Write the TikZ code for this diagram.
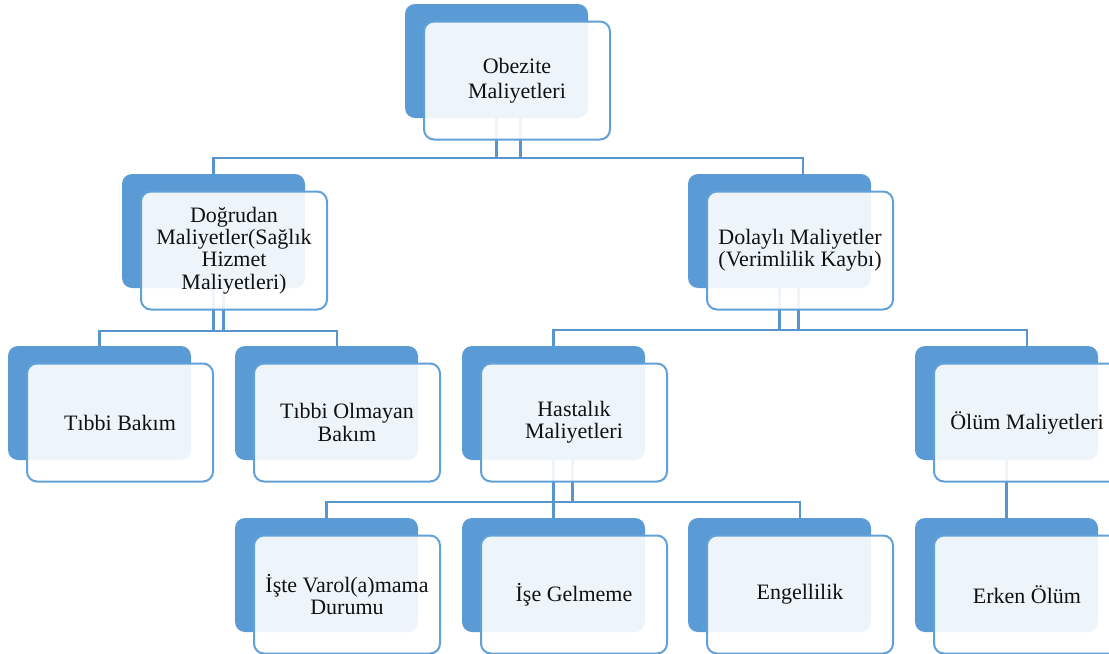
\documentclass[tikz,border=0pt]{standalone}
\usepackage{fontspec}
\setmainfont{Liberation Serif}
\usetikzlibrary{calc}
\pgfdeclarelayer{bg}
\pgfsetlayers{bg,main}
\definecolor{boxblue}{HTML}{5B9BD5}
\definecolor{edgeblue}{HTML}{62A0D8}
\definecolor{connblue}{HTML}{5A94CC}
\definecolor{txt}{HTML}{111111}
\tikzset{
  backbox/.style={fill=boxblue, draw=none, rounded corners=7.5pt, inner sep=0pt,
    minimum width=137.25pt, minimum height=85.5pt},
  frontbox/.style={fill=white, fill opacity=0.9, text opacity=1, draw=edgeblue, draw opacity=1,
    line width=1.5pt, rounded corners=7.5pt, inner sep=0pt,
    minimum width=139.5pt, minimum height=88.5pt, align=center, text=txt,
    font=\fontsize{16.5pt}{16.8pt}\selectfont},
  conn/.style={draw=connblue, line width=1.6pt}
}
\newcommand\pairbox[5][]{%
  \node[backbox] (#2-b) at (#3,#4) {};
  \node[frontbox,#1] (#2-f) at ({#3+20.5},{#4+19.5}) {#5};}
\begin{document}
\begin{tikzpicture}[x=0.75pt,y=-0.75pt]
\useasboundingbox (0,0) rectangle (1109,653);
\clip (0,0) rectangle (1109,653);
\pairbox[font=\fontsize{16.5pt}{19pt}\selectfont]{ob}{496.5}{61}{Obezite\\Maliyetleri}
\pairbox{dog}{213.5}{231}{Doğrudan\\Maliyetler(Sağlık\\Hizmet\\Maliyetleri)}
\pairbox{dol}{779.5}{231}{Dolaylı Maliyetler\\(Verimlilik Kaybı)}
\pairbox{tb}{99.5}{403}{Tıbbi Bakım}
\pairbox{tol}{326.5}{403}{Tıbbi Olmayan\\Bakım}
\pairbox{has}{553.5}{403}{Hastalık\\Maliyetleri}
\pairbox{olm}{1006.5}{403}{Ölüm Maliyetleri}
\pairbox{iste}{326.5}{575}{İşte Varol(a)mama\\Durumu}
\pairbox{ise}{553.5}{575}{İşe Gelmeme}
\pairbox{eng}{779.5}{575}{Engellilik}
\pairbox{erk}{1006.5}{575}{Erken Ölüm}
\begin{pgfonlayer}{bg}
% level 1
\draw[conn] (dog-b.north) -- ++(0,-16) -| ([xshift=2.25pt]dol-f.north);
\draw[conn] (ob-b.south) -- ++(0,41);
\draw[conn] ([xshift=18pt]ob-b.south) -- ++(0,41);
% Doğrudan
\draw[conn] (tb-b.north) -- ++(0,-15) -| ([xshift=-7.5pt]tol-f.north);
\draw[conn] (dog-b.south) -- ++(0,43);
\draw[conn] ([xshift=7.5pt]dog-b.south) -- ++(0,43);
% Dolaylı
\draw[conn] (has-b.north) -- ++(0,-16) -| (olm-f.north);
\draw[conn] (dol-b.south) -- ++(0,42);
\draw[conn] ([xshift=14.25pt]dol-b.south) -- ++(0,42);
% Hastalık
\draw[conn] (iste-b.north) -- ++(0,-16) -| (eng-f.north);
\draw[conn] (has-b.south) -- (ise-b.north);
\draw[conn] ([xshift=14.25pt]has-b.south) -- ++(0,42);
% Ölüm
\draw[conn] (olm-b.south) -- (erk-b.north);
\end{pgfonlayer}
\end{tikzpicture}
\end{document}
